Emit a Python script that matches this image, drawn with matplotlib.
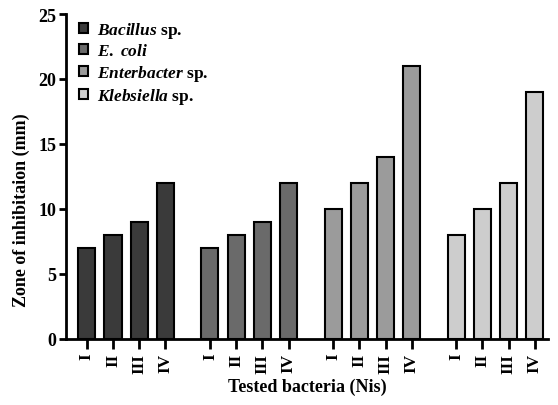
import matplotlib.pyplot as plt
import numpy as np

plt.rcParams['font.family'] = 'Liberation Serif'
plt.rcParams['font.weight'] = 'bold'
plt.rcParams['axes.labelweight'] = 'bold'
plt.rcParams['mathtext.fontset'] = 'custom'
plt.rcParams['mathtext.it'] = 'Liberation Serif:italic:bold'
plt.rcParams['mathtext.rm'] = 'Liberation Serif:bold'

# zone of inhibition (mm) per bacterium, for Nis I-IV
bacteria = [r'$\mathit{Bacillus}$ sp.', r'$\mathit{E.}$ $\mathit{coli}$',
            r'$\mathit{Enterbacter}$ sp.', r'$\mathit{Klebsiella}$ sp.']
nis = ['I', 'II', 'III', 'IV']
bacillus = [7, 8, 9, 12]
ecoli = [7, 8, 9, 12]
enterbacter = [10, 12, 14, 21]
klebsiella = [8, 10, 12, 19]
colors = ['#3a3a3a', '#6a6a6a', '#9b9b9b', '#cdcdcd']

fig = plt.figure(figsize=(5.58, 4.06), dpi=100)
ax = fig.add_axes([0.118, 0.163, 0.864, 0.8])

group_gap = 4.7
ticks, labels = [], []
for g, vals in enumerate([bacillus, ecoli, enterbacter, klebsiella]):
    x = np.arange(len(vals)) + g * group_gap
    ax.bar(x, vals, width=0.65, color=colors[g], edgecolor='black',
           linewidth=1.5, label=bacteria[g])
    ticks.extend(x)
    labels.extend(nis)

ax.set_xticks(ticks)
ax.set_xticklabels(labels, rotation=90, fontsize=12.5)
ax.set_xlim(-0.8, ticks[-1] + 0.5)
ax.set_ylim(0, 25)
ax.set_yticks([0, 5, 10, 15, 20, 25])
ax.tick_params(axis='y', labelsize=13, width=2, length=5, pad=2)
ax.tick_params(axis='x', width=2, length=7, pad=3)
for s in ['top', 'right']:
    ax.spines[s].set_visible(False)
for s in ['left', 'bottom']:
    ax.spines[s].set_linewidth(2)

ax.set_xlabel('Tested bacteria (Nis)', fontsize=13, labelpad=4)
ax.set_ylabel('Zone of inhibitaion (mm)', fontsize=13)
ax.yaxis.set_label_coords(-0.075, 0.40)

ax.legend(loc='upper left', bbox_to_anchor=(-0.005, 1.03), frameon=False,
          fontsize=12.5, handlelength=0.5, handleheight=0.5, handletextpad=0.55,
          labelspacing=0.2)

fig.savefig('out.png', dpi=100)
